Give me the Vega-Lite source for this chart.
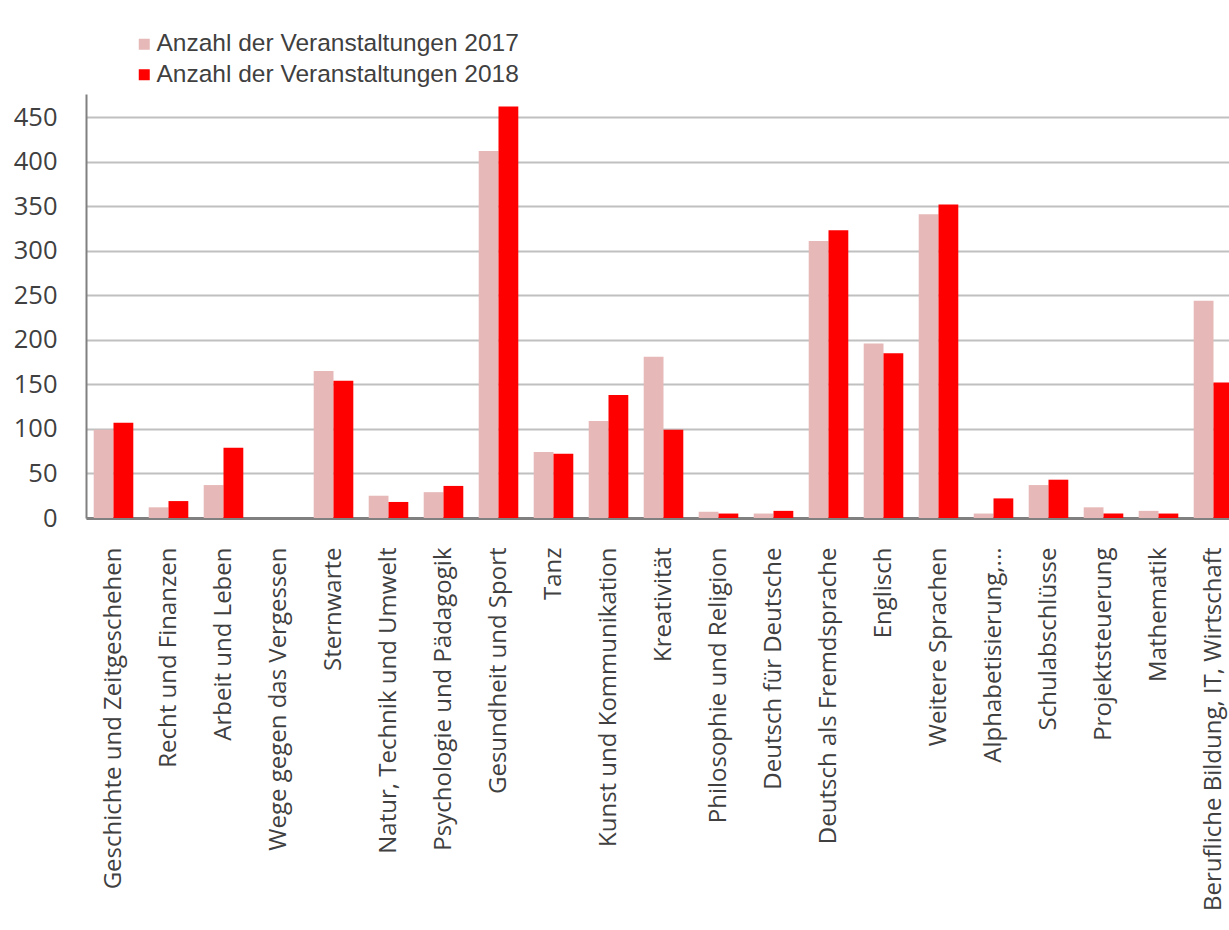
{
  "$schema": "https://vega.github.io/schema/vega-lite/v6.json",
  "autosize": "none",
  "padding": {"left": 86, "top": 94, "right": 0, "bottom": 412},
  "width": 1155,
  "height": 424,
  "background": "white",
  "data": {"values": [
    {"Kategorie": "Geschichte und Zeitgeschehen", "Jahr": "Anzahl der Veranstaltungen 2017", "Anzahl": 99},
    {"Kategorie": "Geschichte und Zeitgeschehen", "Jahr": "Anzahl der Veranstaltungen 2018", "Anzahl": 107},
    {"Kategorie": "Recht und Finanzen", "Jahr": "Anzahl der Veranstaltungen 2017", "Anzahl": 12},
    {"Kategorie": "Recht und Finanzen", "Jahr": "Anzahl der Veranstaltungen 2018", "Anzahl": 19},
    {"Kategorie": "Arbeit und Leben", "Jahr": "Anzahl der Veranstaltungen 2017", "Anzahl": 37},
    {"Kategorie": "Arbeit und Leben", "Jahr": "Anzahl der Veranstaltungen 2018", "Anzahl": 79},
    {"Kategorie": "Wege gegen das Vergessen", "Jahr": "Anzahl der Veranstaltungen 2017", "Anzahl": 0},
    {"Kategorie": "Wege gegen das Vergessen", "Jahr": "Anzahl der Veranstaltungen 2018", "Anzahl": 0},
    {"Kategorie": "Sternwarte", "Jahr": "Anzahl der Veranstaltungen 2017", "Anzahl": 165},
    {"Kategorie": "Sternwarte", "Jahr": "Anzahl der Veranstaltungen 2018", "Anzahl": 154},
    {"Kategorie": "Natur, Technik und Umwelt", "Jahr": "Anzahl der Veranstaltungen 2017", "Anzahl": 25},
    {"Kategorie": "Natur, Technik und Umwelt", "Jahr": "Anzahl der Veranstaltungen 2018", "Anzahl": 18},
    {"Kategorie": "Psychologie und Pädagogik", "Jahr": "Anzahl der Veranstaltungen 2017", "Anzahl": 29},
    {"Kategorie": "Psychologie und Pädagogik", "Jahr": "Anzahl der Veranstaltungen 2018", "Anzahl": 36},
    {"Kategorie": "Gesundheit und Sport", "Jahr": "Anzahl der Veranstaltungen 2017", "Anzahl": 412},
    {"Kategorie": "Gesundheit und Sport", "Jahr": "Anzahl der Veranstaltungen 2018", "Anzahl": 462},
    {"Kategorie": "Tanz", "Jahr": "Anzahl der Veranstaltungen 2017", "Anzahl": 74},
    {"Kategorie": "Tanz", "Jahr": "Anzahl der Veranstaltungen 2018", "Anzahl": 72},
    {"Kategorie": "Kunst und Kommunikation", "Jahr": "Anzahl der Veranstaltungen 2017", "Anzahl": 109},
    {"Kategorie": "Kunst und Kommunikation", "Jahr": "Anzahl der Veranstaltungen 2018", "Anzahl": 138},
    {"Kategorie": "Kreativität", "Jahr": "Anzahl der Veranstaltungen 2017", "Anzahl": 181},
    {"Kategorie": "Kreativität", "Jahr": "Anzahl der Veranstaltungen 2018", "Anzahl": 99},
    {"Kategorie": "Philosophie und Religion", "Jahr": "Anzahl der Veranstaltungen 2017", "Anzahl": 7},
    {"Kategorie": "Philosophie und Religion", "Jahr": "Anzahl der Veranstaltungen 2018", "Anzahl": 5},
    {"Kategorie": "Deutsch für Deutsche", "Jahr": "Anzahl der Veranstaltungen 2017", "Anzahl": 5},
    {"Kategorie": "Deutsch für Deutsche", "Jahr": "Anzahl der Veranstaltungen 2018", "Anzahl": 8},
    {"Kategorie": "Deutsch als Fremdsprache", "Jahr": "Anzahl der Veranstaltungen 2017", "Anzahl": 311},
    {"Kategorie": "Deutsch als Fremdsprache", "Jahr": "Anzahl der Veranstaltungen 2018", "Anzahl": 323},
    {"Kategorie": "Englisch", "Jahr": "Anzahl der Veranstaltungen 2017", "Anzahl": 196},
    {"Kategorie": "Englisch", "Jahr": "Anzahl der Veranstaltungen 2018", "Anzahl": 185},
    {"Kategorie": "Weitere Sprachen", "Jahr": "Anzahl der Veranstaltungen 2017", "Anzahl": 341},
    {"Kategorie": "Weitere Sprachen", "Jahr": "Anzahl der Veranstaltungen 2018", "Anzahl": 352},
    {"Kategorie": "Alphabetisierung,...", "Jahr": "Anzahl der Veranstaltungen 2017", "Anzahl": 5},
    {"Kategorie": "Alphabetisierung,...", "Jahr": "Anzahl der Veranstaltungen 2018", "Anzahl": 22},
    {"Kategorie": "Schulabschlüsse", "Jahr": "Anzahl der Veranstaltungen 2017", "Anzahl": 37},
    {"Kategorie": "Schulabschlüsse", "Jahr": "Anzahl der Veranstaltungen 2018", "Anzahl": 43},
    {"Kategorie": "Projektsteuerung", "Jahr": "Anzahl der Veranstaltungen 2017", "Anzahl": 12},
    {"Kategorie": "Projektsteuerung", "Jahr": "Anzahl der Veranstaltungen 2018", "Anzahl": 5},
    {"Kategorie": "Mathematik", "Jahr": "Anzahl der Veranstaltungen 2017", "Anzahl": 8},
    {"Kategorie": "Mathematik", "Jahr": "Anzahl der Veranstaltungen 2018", "Anzahl": 5},
    {"Kategorie": "Berufliche Bildung, IT, Wirtschaft", "Jahr": "Anzahl der Veranstaltungen 2017", "Anzahl": 244},
    {"Kategorie": "Berufliche Bildung, IT, Wirtschaft", "Jahr": "Anzahl der Veranstaltungen 2018", "Anzahl": 152}
  ]},
  "mark": {"type": "bar"},
  "encoding": {
    "x": {
      "field": "Kategorie", "type": "nominal", "sort": null,
      "scale": {"paddingInner": 0.28, "paddingOuter": 0.14},
      "axis": {
        "title": null, "labelAngle": -90, "ticks": false, "labelPadding": 29,
        "labelFont": "Open Sans", "labelFontSize": 24, "labelColor": "#404040",
        "labelLimit": 0, "domainColor": "#808080", "domainWidth": 3, "grid": false
      }
    },
    "xOffset": {"field": "Jahr", "type": "nominal", "sort": null},
    "y": {
      "field": "Anzahl", "type": "quantitative",
      "scale": {"domain": [0, 476], "nice": false},
      "axis": {
        "title": null, "values": [0, 50, 100, 150, 200, 250, 300, 350, 400, 450],
        "ticks": false, "labelPadding": 29,
        "labelFont": "Open Sans", "labelFontSize": 25.5, "labelColor": "#404040",
        "domainColor": "#808080", "domainWidth": 2,
        "gridColor": "#C0C0C0", "gridWidth": 2
      }
    },
    "color": {
      "field": "Jahr", "type": "nominal", "sort": null,
      "scale": {"range": ["#E6B9B8", "#FF0000"]},
      "legend": {
        "title": null, "orient": "none", "legendX": 46, "legendY": -62,
        "symbolType": "square", "symbolSize": 121, "symbolStrokeWidth": 0,
        "labelFont": "Liberation Sans", "labelFontSize": 24.5, "labelColor": "#404040",
        "labelOffset": 0, "rowPadding": 5.5, "labelLimit": 0
      }
    }
  },
  "config": {"view": {"stroke": null}}
}
